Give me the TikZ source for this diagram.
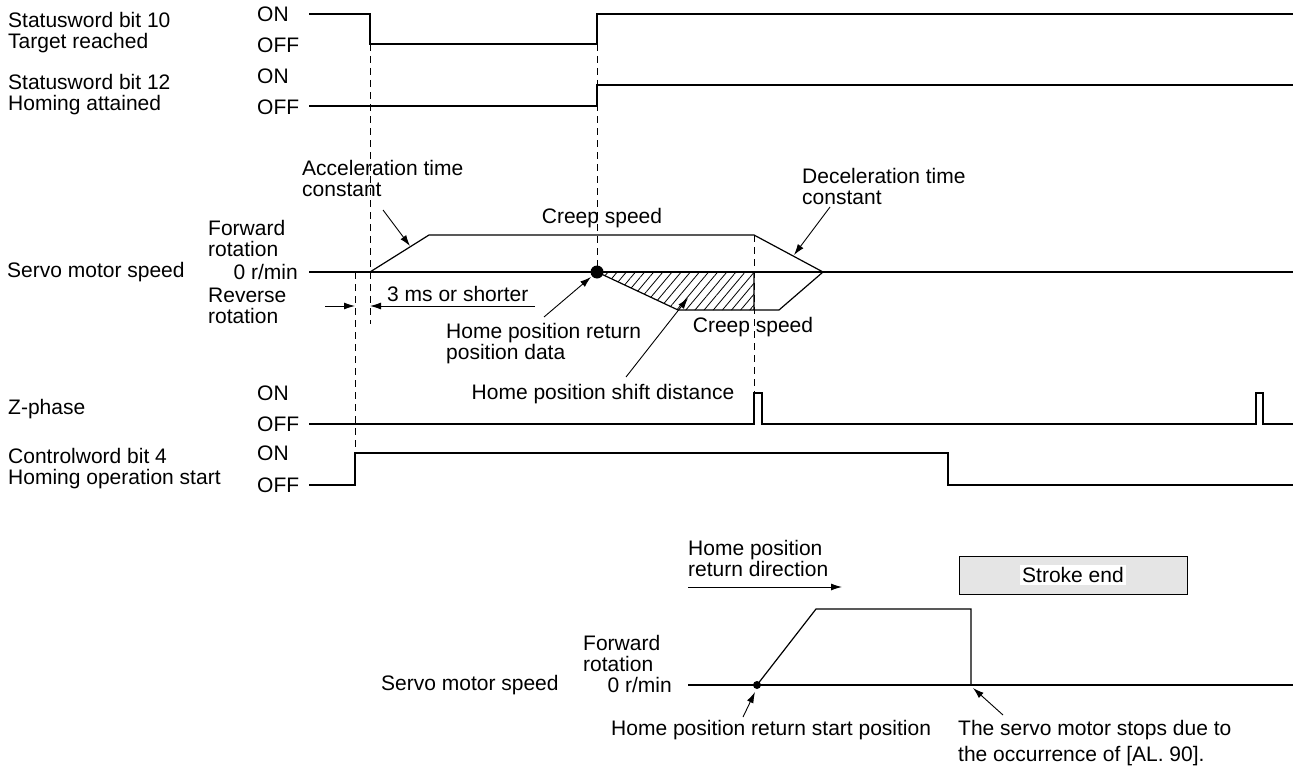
\documentclass[tikz,border=0pt]{standalone}
\usepackage{fontspec}
\setmainfont{Liberation Sans}
\usetikzlibrary{arrows.meta, patterns.meta}

\begin{document}
\begin{tikzpicture}[
    x=1pt, y=-1pt,
    font=\fontsize{21}{21}\selectfont,
    lbl/.style={inner sep=0pt, anchor=west, align=left},
    rlbl/.style={inner sep=0pt, anchor=east},
    sig/.style={line width=1.2pt, line join=miter},
    guide/.style={line width=1pt, dash pattern=on 7pt off 5pt},
    pointer/.style={line width=0.9pt, -{Latex[length=11pt, width=7pt]}},
    box/.style={draw, fill=black!10, line width=1pt, minimum width=228pt, minimum height=38pt}
  ]
  \useasboundingbox (0,0) rectangle (1296,768);

  % signal names and levels
  \node[lbl] (sw10) at (8,33) {Statusword bit 10\\Target reached};
  \node[lbl] (sw12) at (8,95) {Statusword bit 12\\Homing attained};
  \node[lbl] (speed) at (7,272) {Servo motor speed};
  \node[lbl] (zphase) at (8,409) {Z-phase};
  \node[lbl] (cw4) at (8,469) {Controlword bit 4\\Homing operation start};

  \node[lbl] (on10) at (257,14) {ON};
  \node[lbl] (off10) at (257,45) {OFF};
  \node[lbl] (on12) at (257,76) {ON};
  \node[lbl] (off12) at (257,107) {OFF};
  \node[lbl] (fwd) at (208,238) {Forward\\rotation};
  \node[rlbl] (zero) at (298,272) {0 r/min};
  \node[lbl] (rev) at (208,306) {Reverse\\rotation};
  \node[lbl] (onz) at (257,393) {ON};
  \node[lbl] (offz) at (257,424) {OFF};
  \node[lbl] (on4) at (257,453) {ON};
  \node[lbl] (off4) at (257,485) {OFF};

  % time guides
  \draw[guide] (370,44) -- (370,324);
  \draw[guide] (355,272) -- (355,453);
  \draw[guide] (597,44) -- (597,266);
  \draw[guide] (754,235) -- (754,393);

  % status words
  \draw[sig] (309,14) -- (370,14) -- (370,44) -- (597,44) -- (597,14) -- (1293,14);
  \draw[sig] (309,106) -- (597,106) -- (597,85) -- (1293,85);

  % servo motor speed
  \draw[sig] (309,272) -- (1293,272);
  \draw[sig] (370,272) -- (429,235) -- (754,235) -- (823,272);
  \draw[sig, pattern={Lines[angle=50, distance=7pt, line width=0.8pt]}]
    (597,272) -- (754,272) -- (754,310) -- (678,310) -- cycle;
  \draw[sig] (754,310) -- (779,310) -- (823,272);
  \fill (597,272) circle (6.5pt);

  \coordinate (ms3a) at (325,306);
  \coordinate (ms3b) at (355,306);
  \coordinate (ms3c) at (535,306);
  \coordinate (ms3d) at (370,306);
  \draw[pointer] (ms3a) -- (ms3b);
  \draw[pointer] (ms3c) -- (ms3d);
  \node[lbl] (ms3) at (387,294) {3 ms or shorter};

  \node[lbl] (acc) at (302,178) {Acceleration time\\constant};
  \coordinate (acctail) at (383,210);
  \coordinate (acctip) at (410,246);
  \draw[pointer] (acctail) -- (acctip);

  \node (creep1) at (602,218) {Creep speed};
  \node[lbl] (dec) at (802,186) {Deceleration time\\constant};
  \coordinate (dectail) at (830,207);
  \coordinate (dectip) at (794,255);
  \draw[pointer] (dectail) -- (dectip);

  \node (creep2) at (753,327) {Creep speed};
  \node[lbl] (hprd) at (446,344) {Home position return\\position data};
  \coordinate (hprdtail) at (544,317);
  \coordinate (hprdtip) at (591,277);
  \draw[pointer] (hprdtail) -- (hprdtip);

  \node (shift) at (603,394) {Home position shift distance};
  \coordinate (shifttail) at (626,377);
  \coordinate (shifttip) at (688,298);
  \draw[pointer] (shifttail) -- (shifttip);

  % Z-phase and controlword
  \draw[sig] (309,424) -- (754,424) -- (754,393) -- (762,393) -- (762,424)
    -- (1256,424) -- (1256,393) -- (1263,393) -- (1263,424) -- (1293,424);
  \draw[sig] (309,485) -- (355,485) -- (355,453) -- (948,453) -- (948,485) -- (1293,485);

  % stroke end case
  \node[lbl] (dir) at (688,558) {Home position\\return direction};
  \coordinate (dira) at (688,587);
  \coordinate (dirb) at (842,587);
  \draw[pointer] (dira) -- (dirb);

  \node[box] (stroke) at (1073,575) {};
  \node[fill=white, inner sep=2pt] (strokelbl) at (stroke) {Stroke end};

  \node[lbl] (speed2) at (381,685) {Servo motor speed};
  \node[rlbl] (zero2) at (672,685) {0 r/min};
  \node[lbl] (fwd2) at (583,653) {Forward\\rotation};
  \draw[sig] (688,685) -- (1293,685);
  \draw[sig] (757,685) -- (816,609) -- (971,609) -- (971,685);
  \fill (757,685) circle (4pt);

  \node[lbl] (startpos) at (611,730) {Home position return start position};
  \coordinate (starttail) at (743,717);
  \coordinate (starttip) at (755,692);
  \draw[pointer] (starttail) -- (starttip);

  \node[lbl] (stop) at (958,743) {The servo motor stops due to\\[5pt]the occurrence of [AL. 90].};
  \coordinate (stoptail) at (1003,715);
  \coordinate (stoptip) at (973,688);
  \draw[pointer] (stoptail) -- (stoptip);
\end{tikzpicture}
\end{document}
